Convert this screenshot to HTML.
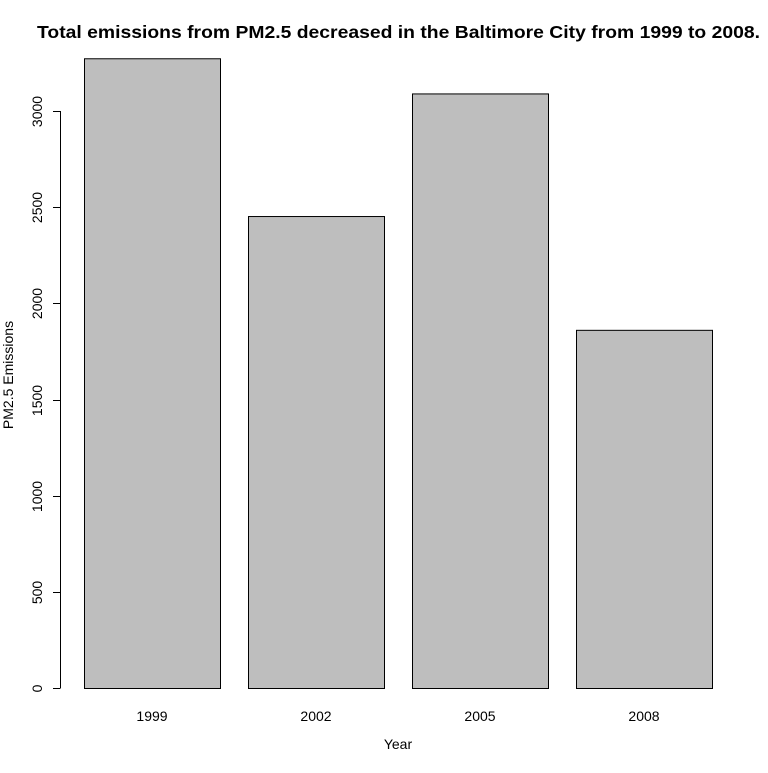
<!DOCTYPE html>
<html><head><meta charset="utf-8"><style>
html,body{margin:0;padding:0;background:#fff}
svg text{font-family:"Liberation Sans",Arial,sans-serif;fill:#000}
</style></head><body>
<svg id="chart" width="768" height="768" viewBox="0 0 768 768">
<rect width="768" height="768" fill="#fff"/>
<text x="398.5" y="38" text-anchor="middle" font-size="17.5" font-weight="bold" textLength="723" lengthAdjust="spacingAndGlyphs">Total emissions from PM2.5 decreased in the Baltimore City from 1999 to 2008.</text>
<text x="398" y="749" text-anchor="middle" font-size="14">Year</text>
<text transform="translate(13,375) rotate(-90)" text-anchor="middle" font-size="14">PM2.5 Emissions</text>
<g id="bars"></g>
<g id="yaxis"></g>
<g id="xlabels"></g>
</svg>
<script>
const categories = ["1999","2002","2005","2008"];
const values = [3274.18, 2453.92, 3091.35, 1862.28];
const yTicks = [0,500,1000,1500,2000,2500,3000];

const NS="http://www.w3.org/2000/svg";
const y0=688, pxPerUnit=577/3000;
function yScale(v){return y0 - v*pxPerUnit;}
const barW=136, gap=28, left=84;
function xScale(i){return left + i*(barW+gap);}
function mk(tag,attrs,parent){const e=document.createElementNS(NS,tag);for(const k in attrs)e.setAttribute(k,attrs[k]);parent.appendChild(e);return e;}

const bars=document.getElementById('bars');
values.forEach((v,i)=>{
  const r=mk('rect',{x:xScale(i)+0.5,y:yScale(v)+0.5,width:barW,height:y0-yScale(v),fill:'#bebebe',stroke:'#000','stroke-width':1},bars);
  
  
});
const xl=document.getElementById('xlabels');
categories.forEach((c,i)=>{
  const t=mk('text',{x:xScale(i)+barW/2,y:721,'text-anchor':'middle','font-size':14},xl);
  t.textContent=c;
  
  
});
const ya=document.getElementById('yaxis');
const axl=mk('line',{x1:60.5,x2:60.5,y1:yScale(yTicks[0]),y2:yScale(yTicks[yTicks.length-1]),stroke:'#000'},ya);


yTicks.forEach(v=>{
  const yy=Math.round(yScale(v))+0.5;
  const tk=mk('line',{x1:53,x2:60.5,y1:yy,y2:yy,stroke:'#000'},ya);
  
  
  const t=mk('text',{transform:'translate(42,'+yy+') rotate(-90)','text-anchor':'middle','font-size':14},ya);
  t.textContent=String(v);
  
  
});
</script>
</body></html>
